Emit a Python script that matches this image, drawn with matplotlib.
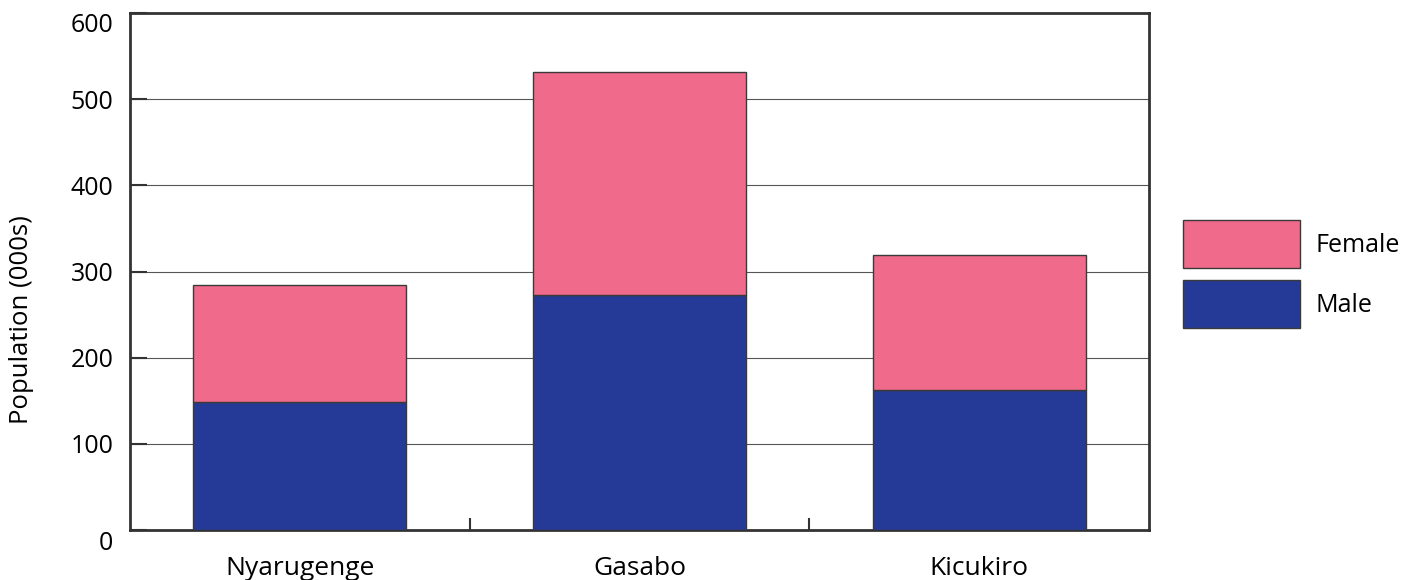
import numpy as np
import matplotlib.pyplot as plt
import matplotlib.transforms as mtransforms

districts = ["Nyarugenge", "Gasabo", "Kicukiro"]
male = [148, 273, 162]
female = [136, 258, 157]
yticks = [0, 100, 200, 300, 400, 500, 600]

c_female = '#f06a8c'
c_male = '#253a96'

plt.rcParams['font.family'] = ['Open Sans', 'DejaVu Sans']

fig = plt.figure(figsize=(14.06, 5.8), dpi=100)
ax = fig.add_axes([130/1406, 1-530/580, 1019/1406, 517/580])

x = np.arange(len(districts))
w = 0.627
ax.bar(x, male, w, color=c_male, edgecolor='#3a3a3a', linewidth=1, label='Male', zorder=3)
ax.bar(x, female, w, bottom=male, color=c_female, edgecolor='#3a3a3a', linewidth=1, label='Female', zorder=3)

ax.set_xlim(-0.5, 2.5)
ax.set_ylim(0, 600)
ax.set_yticks(yticks)
ax.yaxis.grid(True, color='#555555', linewidth=0.8, zorder=0)
ax.set_axisbelow(True)

ax.set_xticks(x)
ax.set_xticklabels(districts)
ax.set_xticks([0.5, 1.5], minor=True)
ax.tick_params(axis='x', which='major', length=0, pad=19, labelsize=19)
ax.tick_params(axis='x', which='minor', direction='in', length=9, width=1.5, color='#333333')
ax.tick_params(axis='y', direction='in', length=12, width=1.5, color='#333333', pad=12, labelsize=18)

for s in ax.spines.values():
    s.set_color('#333333')
    s.set_linewidth(2)

# the top and bottom labels sit a little lower in the original
labels = ax.get_yticklabels()
off = mtransforms.ScaledTranslation(0, -10/100, fig.dpi_scale_trans)
for lab in (labels[0], labels[-1]):
    lab.set_transform(lab.get_transform() + off)

fig.text(22/1406, 1-320/580, 'Population (000s)', rotation=90, ha='center', va='center', fontsize=18.5)

h, l = ax.get_legend_handles_labels()
ax.legend(h[::-1], l[::-1], loc='upper left', bbox_to_anchor=(1.0236, 0.619), frameon=False,
          fontsize=18, handlelength=4.68, handleheight=2.58, labelspacing=0.48, handletextpad=0.6,
          borderaxespad=0)

fig.savefig('out.png', dpi=100)
